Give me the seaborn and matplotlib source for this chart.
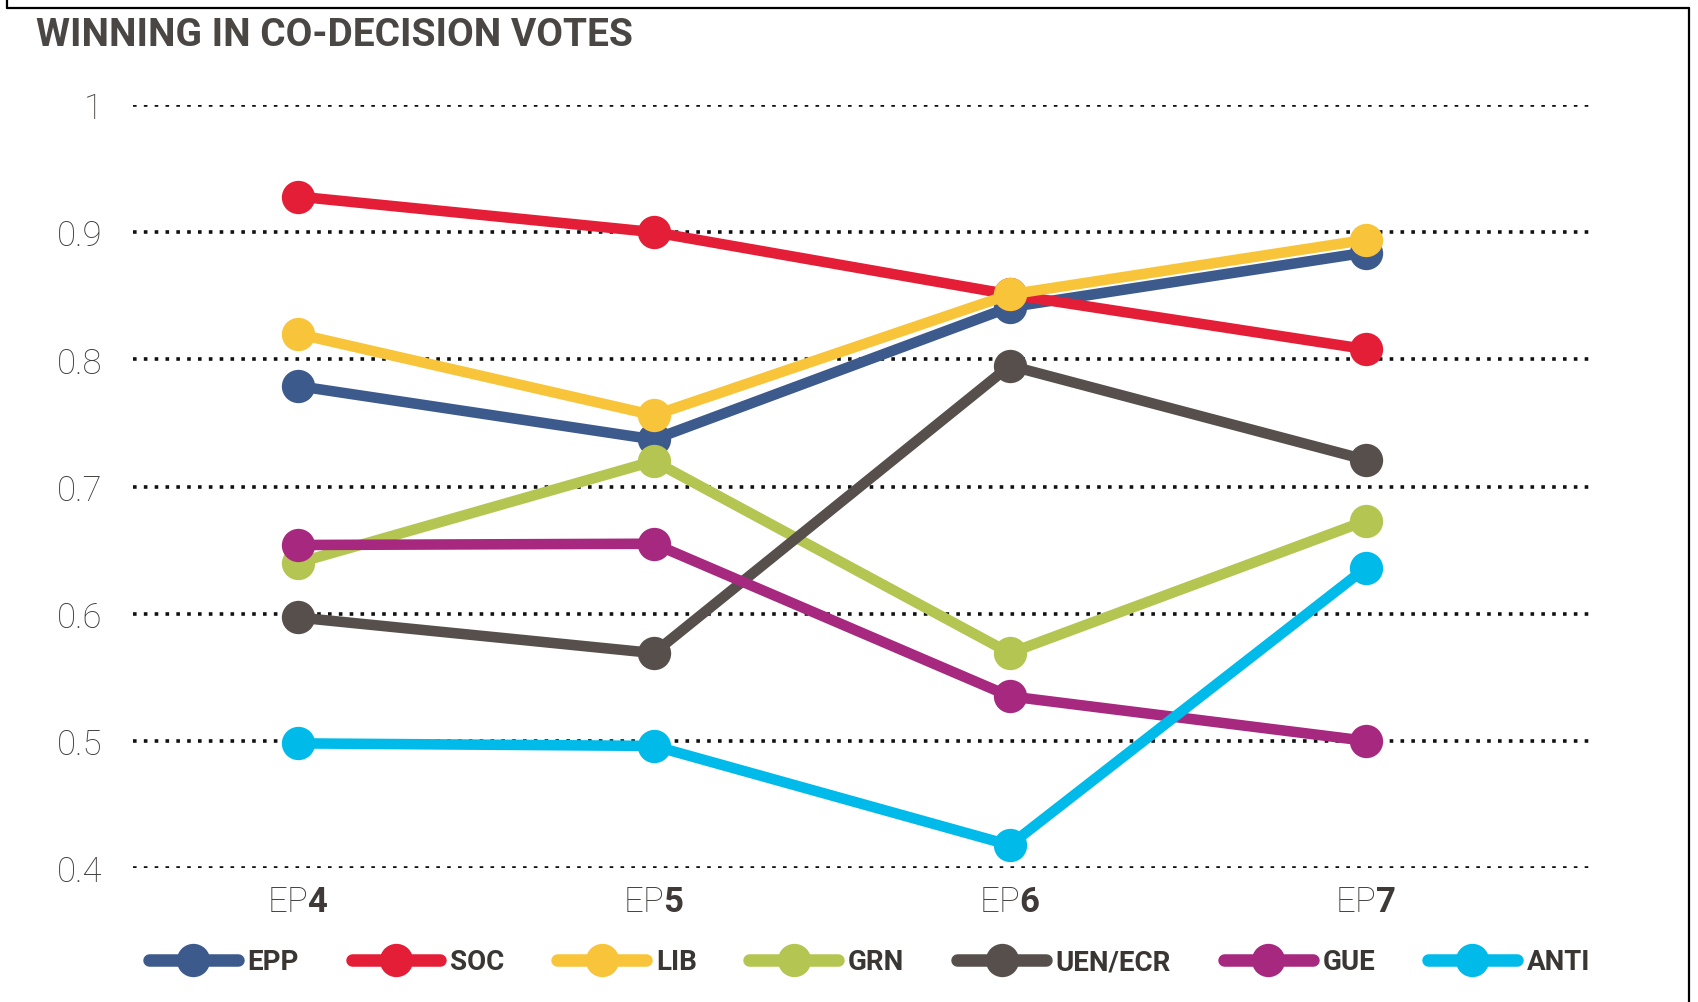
import numpy as np
import pandas as pd
import seaborn as sns
import matplotlib.pyplot as plt
from matplotlib.lines import Line2D

# data
periods = ['EP4', 'EP5', 'EP6', 'EP7']
groups = ['EPP', 'SOC', 'LIB', 'GRN', 'UEN/ECR', 'GUE', 'ANTI']
epp = [0.779, 0.737, 0.841, 0.884]
soc = [0.928, 0.900, 0.851, 0.808]
lib = [0.820, 0.756, 0.851, 0.894]
grn = [0.640, 0.720, 0.569, 0.673]
uen = [0.597, 0.569, 0.795, 0.721]
gue = [0.654, 0.655, 0.535, 0.500]
anti = [0.498, 0.496, 0.418, 0.636]
colors = ['#3d5a8d', '#e31e36', '#f8c43a', '#b5c552', '#574f4c', '#a6297f', '#00bbea']

values = [epp, soc, lib, grn, uen, gue, anti]
df = pd.DataFrame({
    'period': periods * len(groups),
    'group': [g for g in groups for _ in periods],
    'value': [v for vals in values for v in vals],
})

sns.set_style("white")
plt.rcParams['font.family'] = ['Roboto', 'DejaVu Sans']
plt.rcParams['mathtext.fontset'] = 'custom'
plt.rcParams['mathtext.rm'] = 'Roboto:light'
plt.rcParams['mathtext.bf'] = 'Roboto:bold'

fig = plt.figure(figsize=(16.98, 10.03), dpi=100)
ax = fig.add_axes([133 / 1698, 134 / 1003, 1460 / 1698, 763 / 1003])

sns.lineplot(data=df, x='period', y='value', hue='group', hue_order=groups,
             palette=colors, marker='o', markersize=24, markeredgewidth=0,
             linewidth=7.6, sort=False, ax=ax, legend=False)
for ln in ax.lines:
    ln.set_clip_on(False)
    ln.set_solid_capstyle('round')

ax.set_xlim(-0.463, 3.638)
ax.set_ylim(0.4, 1.0)
ax.set_yticks([0.4, 0.5, 0.6, 0.7, 0.8, 0.9, 1.0])
ax.set_yticklabels(['0.4', '0.5', '0.6', '0.7', '0.8', '0.9', '1'],
                   fontweight='light', fontsize=25, color='#3f3a38')
ax.set_xticks(range(len(periods)))
ax.set_xticklabels([r'$\mathrm{EP}\mathbf{' + p[2:] + '}$' for p in periods],
                   fontsize=25, color='#3f3a38')
ax.tick_params(axis='y', length=0, pad=22)
ax.tick_params(axis='x', length=0, pad=12)
ax.set_xlabel('')
ax.set_ylabel('')
ax.yaxis.grid(True, color='#111111', linestyle=(0, (1, 2.0)), linewidth=2.6)
ax.xaxis.grid(False)
ax.set_axisbelow(True)
sns.despine(ax=ax, left=True, bottom=True)

fig.text(36 / 1698, 1 - 36 / 1003, 'WINNING IN CO-DECISION VOTES', fontsize=28,
         fontweight='bold', color='#4a4644', va='center', ha='left')

# frame around the panel
for xs, ys in [([7, 7], [0, 9]), ([7, 1689], [9, 9]), ([1689, 1689], [9, 1003])]:
    fig.add_artist(Line2D([x / 1698 for x in xs], [1 - y / 1003 for y in ys],
                          color='black', linewidth=1.6))

handles = [Line2D([], [], color=c, linewidth=9, marker='o', markersize=24,
                  markeredgewidth=0, solid_capstyle='round') for c in colors]
leg = fig.legend(handles, groups, loc='center', bbox_to_anchor=(0.512, 0.04), ncol=7,
                 frameon=False, handlelength=3.2, handletextpad=0.35,
                 columnspacing=1.9, prop={'weight': 'bold', 'size': 20})
for t in leg.get_texts():
    t.set_color('#3a3634')

fig.savefig('out.png', dpi=100)
